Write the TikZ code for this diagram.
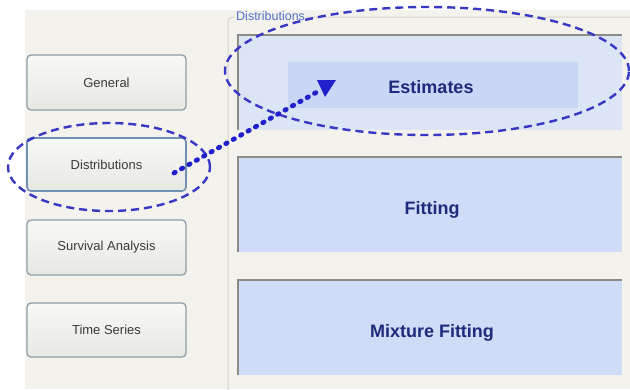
\documentclass[tikz,border=0pt]{standalone}
\usepackage{fontspec}
\setmainfont{Liberation Sans}
\usetikzlibrary{shapes.geometric}
\definecolor{bgc}{HTML}{F3F2EC}
\definecolor{btnfill}{HTML}{F1F1EC}
\definecolor{btnborder}{HTML}{8E9FA8}
\definecolor{distborder}{HTML}{6F8FB5}
\definecolor{btntext}{HTML}{3A3A3A}
\definecolor{boxfill}{HTML}{CFDBF7}
\definecolor{estfill}{HTML}{DCE5F6}
\definecolor{esthl}{HTML}{CAD6F5}
\definecolor{boxedge}{HTML}{8C8C86}
\definecolor{titletext}{HTML}{1E2A7A}
\definecolor{grouptext}{HTML}{5070C8}
\definecolor{groupline}{HTML}{D3D3CC}
\definecolor{hlblue}{HTML}{3838C4}
\definecolor{arrblue}{HTML}{2020CC}
\begin{document}
\begin{tikzpicture}[x=1pt,y=-1pt,
  btn/.style={draw=btnborder, line width=1.3pt, rounded corners=4pt, top color=white!50!btnfill, bottom color=btnfill!96!black,
    minimum width=159pt, minimum height=55pt, inner sep=0pt,
    font=\fontsize{13}{15}\selectfont, text=btntext},
  panel/.style={fill=boxfill, minimum width=384pt, minimum height=95pt, inner sep=0pt},
  paneledge/.style={draw=boxedge, line width=2pt},
  title/.style={font=\fontsize{18}{20}\selectfont\bfseries, text=titletext, inner sep=0pt},
  hlell/.style={draw=hlblue, ellipse, line width=2.4pt, dash pattern=on 8pt off 5pt, inner sep=0pt},
  dotline/.style={draw=arrblue, line width=4.8pt, line cap=round, dash pattern=on 1.5pt off 7pt}
]
\useasboundingbox (0,0) rectangle (630,389);
\fill[white] (0,0) rectangle (630,389);
\fill[bgc] (25,10) rectangle (630,389);
% group box
\draw[groupline, line width=1pt, rounded corners=5pt] (640,17) -- (228,17) -- (228,400);
\node[anchor=west, fill=bgc, inner sep=1pt, font=\fontsize{12.5}{14}\selectfont, text=grouptext] (grp) at (235,16) {Distributions};
% left buttons
\node[btn] (gen) at (106.5,82.5) {General};
\node[btn, draw=distborder, line width=1.6pt, minimum height=53pt] (dist) at (106.5,164.5) {Distributions};
\node[btn] (surv) at (106.5,247.5) {Survival Analysis};
\node[btn, minimum height=54pt] (ts) at (106.5,330) {Time Series};
% right panels
\node[panel, fill=estfill] (est) at (430,82.5) {};
\draw[paneledge] (est.south west) |- (est.north east);
\node[fill=esthl, minimum width=290pt, minimum height=46pt, inner sep=0pt] (estbtn) at (433,85) {};
\node[title] (estT) at (431,87) {Estimates};
\node[panel] (fit) at (430,204.5) {};
\draw[paneledge] (fit.south west) |- (fit.north east);
\node[title] (fitT) at (432,210) {Fitting};
\node[panel] (mix) at (430,327.5) {};
\draw[paneledge] (mix.south west) |- (mix.north east);
\node[title] (mixT) at (432,333) {Mixture Fitting};
% highlight ellipses
\node[hlell, minimum width=202pt, minimum height=88pt] (ellD) at (109,167) {};
\node[hlell, minimum width=404pt, minimum height=128pt] (ellE) at (427,71) {};
% dotted arrow
\coordinate (aS) at (174,173);
\coordinate (aE) at (317,92);
\draw[dotline] (aS) -- (aE);
\fill[arrblue] (317,80) -- (336,80) -- (325,97) -- cycle;
\end{tikzpicture}
\end{document}
